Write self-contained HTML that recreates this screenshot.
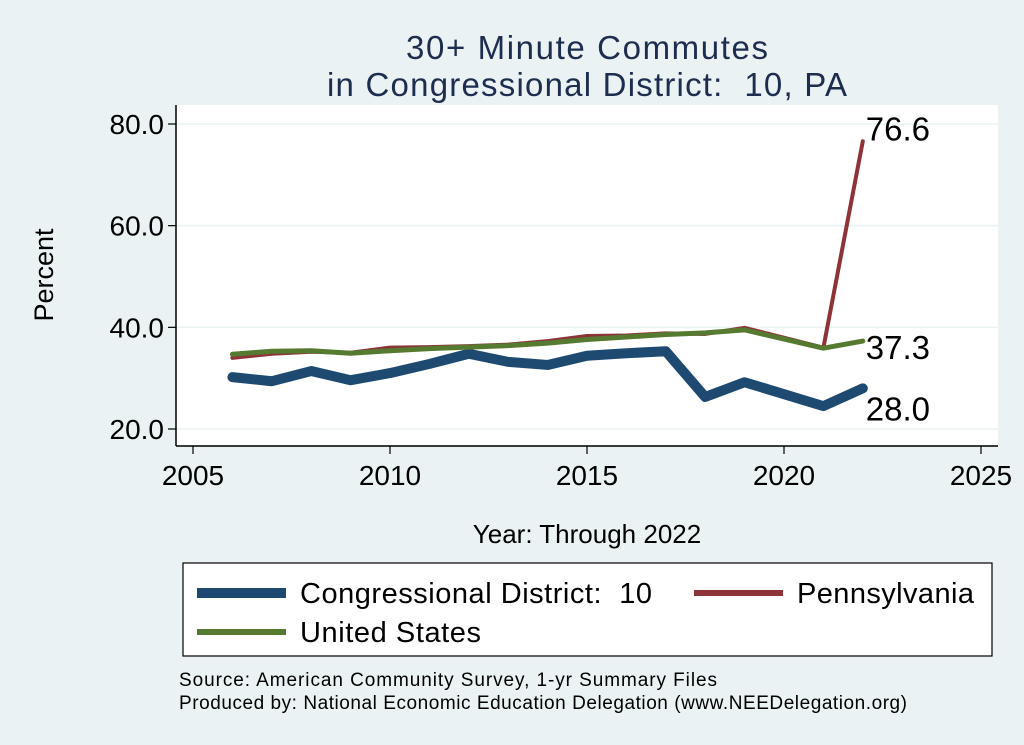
<!DOCTYPE html>
<html><head><meta charset="utf-8"><style>
body{margin:0;background:#eaf2f3;}
svg{display:block;font-family:"Liberation Sans",sans-serif;}
text{white-space:pre;}
</style></head><body>
<svg id="chart" width="1024" height="745">
<rect x="0" y="0" width="1024" height="745" fill="#eaf2f3"/>
<text x="587" y="59" font-size="33" fill="#1c2d4f" text-anchor="middle" textLength="362">30+ Minute Commutes</text>
<text x="587" y="96" font-size="33" fill="#1c2d4f" text-anchor="middle" textLength="520">in Congressional District:  10, PA</text>
<rect x="176" y="105" width="822" height="340" fill="#fff"/>
<g id="grid"></g>
<line x1="176" y1="105" x2="176" y2="446" stroke="#000" stroke-width="1.5"/>
<line x1="176" y1="446" x2="998" y2="446" stroke="#000" stroke-width="1.5"/>
<g id="series"></g>
<text x="53" y="275" font-size="27" fill="#000" text-anchor="middle" transform="rotate(-90 53 275)">Percent</text>
<text x="587" y="543" font-size="26" fill="#000" text-anchor="middle">Year: Through 2022</text>
<g>
<rect x="183" y="563" width="809" height="93" fill="#fff" stroke="#000" stroke-width="1.2"/>
<line x1="197" y1="593" x2="286" y2="593" stroke="#1e4a72" stroke-width="10"/>
<text x="300" y="603" font-size="29" textLength="352">Congressional District:  10</text>
<line x1="694" y1="593" x2="783" y2="593" stroke="#8e3338" stroke-width="6"/>
<text x="797" y="603" font-size="29" textLength="177">Pennsylvania</text>
<line x1="197" y1="632" x2="286" y2="632" stroke="#557a30" stroke-width="6"/>
<text x="300" y="642" font-size="29" textLength="181">United States</text>
</g>
<text x="179" y="686" font-size="19" textLength="538">Source: American Community Survey, 1-yr Summary Files</text>
<text x="179" y="709" font-size="19" textLength="728">Produced by: National Economic Education Delegation (www.NEEDelegation.org)</text>
</svg>
<script>
const years=[2006,2007,2008,2009,2010,2011,2012,2013,2014,2015,2016,2017,2018,2019,2021,2022];
const district=[30.2,29.4,31.4,29.6,31.0,32.8,34.8,33.2,32.6,34.4,34.9,35.3,26.3,29.2,24.5,28.0];
const pennsylvania=[34.0,34.8,35.2,35.0,36.0,36.1,36.3,36.6,37.3,38.3,38.4,38.8,38.7,39.9,36.0,76.6];
const unitedStates=[34.7,35.3,35.4,34.9,35.4,35.8,36.1,36.4,36.9,37.6,38.1,38.6,38.9,39.5,35.9,37.3];
const xTicks=[2005,2010,2015,2020,2025];
const yTicks=[20,40,60,80];
const NS="http://www.w3.org/2000/svg";
const xs=v=>193+(v-2005)*(981-193)/20;
const ys=v=>429-(v-20)*(429-124)/60;
function mk(tag,attrs,parent){const e=document.createElementNS(NS,tag);for(const k in attrs)e.setAttribute(k,attrs[k]);parent.appendChild(e);return e;}
const grid=document.getElementById('grid'),svg=document.getElementById('chart'),series=document.getElementById('series');
yTicks.forEach(t=>{
 const g=mk('line',{x1:176,x2:998,y1:ys(t),y2:ys(t),stroke:'#eaf2f3','stroke-width':1.5},grid);
 
 
 const tk=mk('line',{x1:168,x2:176,y1:ys(t),y2:ys(t),stroke:'#000','stroke-width':1.2},svg);
 
 
 const l=mk('text',{x:164,y:ys(t)+10,'font-size':28,'text-anchor':'end'},svg);
 l.textContent=t.toFixed(1);
 
 
});
xTicks.forEach(t=>{
 const tk=mk('line',{x1:xs(t),x2:xs(t),y1:446,y2:454,stroke:'#000','stroke-width':1.2},svg);
 
 
 const l=mk('text',{x:xs(t),y:485,'font-size':28,'text-anchor':'middle'},svg);
 l.textContent=t;
 
 
});
function line(vals,color,w,name,ly){
 const p=mk('polyline',{points:years.map((y,i)=>xs(y)+','+ys(vals[i])).join(' '),fill:'none',stroke:color,'stroke-width':w,'stroke-linejoin':'round','stroke-linecap':'round'},series);
 
 
 const last=vals[vals.length-1];
 const t=mk('text',{x:xs(years[years.length-1])+3,y:ys(last)+ly,'font-size':33},series);
 t.textContent=last.toFixed(1);
 
 
}
line(district,'#1e4a72',10,'district-line',32);
line(pennsylvania,'#8e3338',4,'pennsylvania-line',-1);
line(unitedStates,'#557a30',5,'us-line',18);
</script>
</body></html>
